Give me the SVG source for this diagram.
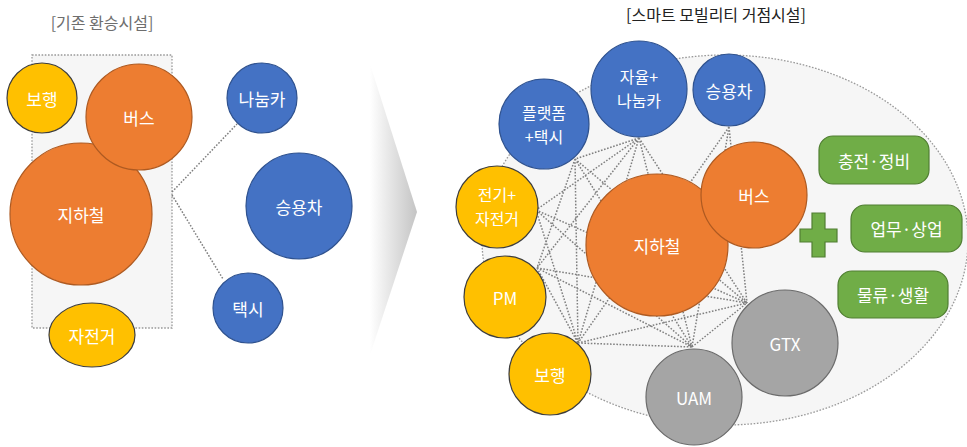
<svg xmlns="http://www.w3.org/2000/svg" width="967" height="447" viewBox="0 0 967 447">
<defs>
<linearGradient id="chev" x1="0" y1="0" x2="1" y2="0">
<stop offset="0" stop-color="#ffffff"/>
<stop offset="1" stop-color="#c4c4c4"/>
</linearGradient>
<style>
text{font-family:"Noto Sans CJK KR","Noto Sans",sans-serif;text-anchor:middle;dominant-baseline:central}
.lbl{fill:#ffffff;font-size:17px}
.lbl2{fill:#ffffff;font-size:16px}
.title{font-size:16px}
.blue{fill:#4472C4;stroke:#2F528F;stroke-width:1.2}
.orange{fill:#ED7D31;stroke:#AE5A21;stroke-width:1.2}
.yellow{fill:#FFC000;stroke:#3d3d3d;stroke-width:1.2}
.gray{fill:#A5A5A5;stroke:#6b6b6b;stroke-width:1.2}
.green{fill:#70AD47;stroke:#507E32;stroke-width:1.2}
.dot{fill:none;stroke:#7f7f7f;stroke-width:1.5;stroke-dasharray:1.6 1.6}
.area{fill:#f6f6f6;stroke:#999999;stroke-width:1.3;stroke-dasharray:1.6 1.6}
</style>
</defs>
<rect width="967" height="447" fill="#ffffff"/>

<text class="title" x="102" y="22" fill="#6e6e6e">[기존 환승시설]</text>
<text class="title" x="716" y="14" fill="#222222">[스마트 모빌리티 거점시설]</text>

<rect id="existing-area" class="area" x="32" y="55" width="140" height="273"/>
<polygon id="arrow" points="370,64 417,212 370,355" fill="url(#chev)"/>
<ellipse id="smart-area" class="area" cx="725" cy="240" rx="243" ry="185"/>

<g id="connectors">
<line class="dot" x1="172" y1="192" x2="237" y2="124"/>
<line class="dot" x1="172" y1="195" x2="223" y2="279"/>
<path class="dot" d="M639,138 L575,159 M639,138 L536,210 M639,138 L537,268 M639,138 L578,343 M639,138 L692,347 M639,138 L747,303
M729,127 L578,343 M729,127 L692,347 M729,127 L747,303
M575,159 L537,268 M575,159 L578,343 M575,159 L692,347 M575,159 L747,303
M536,210 L578,343 M536,210 L692,347 M536,210 L747,303
M537,268 L578,343 M537,268 L692,347 M537,268 L747,303
M578,343 L692,347 M578,343 L747,303 M692,347 L747,303"/>
</g>

<g id="left-walk"><circle class="yellow" cx="42" cy="98" r="35"/><text class="lbl" x="42" y="98">보행</text></g>
<g id="left-subway"><circle class="orange" cx="81" cy="214" r="71"/><text class="lbl" x="81" y="214">지하철</text></g>
<g id="left-bus"><circle class="orange" cx="139" cy="117" r="53"/><text class="lbl" x="139" y="117">버스</text></g>
<g id="left-bike"><ellipse class="yellow" cx="92" cy="335" rx="43" ry="32"/><text class="lbl" x="92" y="335">자전거</text></g>
<g id="left-carshare"><circle class="blue" cx="262" cy="98" r="35"/><text class="lbl" x="262" y="98">나눔카</text></g>
<g id="left-car"><circle class="blue" cx="299" cy="206" r="53"/><text class="lbl" x="299" y="206">승용차</text></g>
<g id="left-taxi"><circle class="blue" cx="248" cy="308" r="35"/><text class="lbl" x="248" y="308">택시</text></g>

<g id="r-autocar"><circle class="blue" cx="639" cy="89" r="48"/><text class="lbl2" x="639" y="76">자율+</text><text class="lbl2" x="639" y="100">나눔카</text></g>
<g id="r-car"><circle class="blue" cx="729" cy="90" r="36"/><text class="lbl" x="729" y="90">승용차</text></g>
<g id="r-taxi"><circle class="blue" cx="544" cy="124" r="45"/><text class="lbl2" x="544" y="112">플랫폼</text><text class="lbl2" x="544" y="136">+택시</text></g>
<g id="r-ebike"><circle class="yellow" cx="497" cy="207" r="41"/><text class="lbl2" x="497" y="194">전기+</text><text class="lbl2" x="497" y="218">자전거</text></g>
<g id="r-pm"><circle class="yellow" cx="505" cy="297" r="41"/><text class="lbl" x="505" y="297">PM</text></g>
<g id="r-walk"><circle class="yellow" cx="550" cy="374" r="41"/><text class="lbl" x="550" y="374">보행</text></g>
<g id="r-subway"><circle class="orange" cx="657" cy="245" r="71"/><text class="lbl" x="657" y="245">지하철</text></g>
<g id="r-bus"><circle class="orange" cx="754" cy="195" r="53"/><text class="lbl" x="754" y="195">버스</text></g>
<g id="r-gtx"><circle class="gray" cx="785" cy="343" r="53"/><text class="lbl" x="785" y="343">GTX</text></g>
<g id="r-uam"><circle class="gray" cx="694" cy="397" r="48"/><text class="lbl" x="694" y="397">UAM</text></g>

<g id="plus"><path class="green" d="M812,213 H825 V229 H837 V242 H825 V257 H812 V242 H800 V229 H812 Z"/></g>
<g id="box-charge"><rect class="green" x="819" y="136" width="110" height="48" rx="14"/><text class="lbl" x="874" y="160">충전·정비</text></g>
<g id="box-business"><rect class="green" x="851" y="205" width="111" height="47" rx="14"/><text class="lbl" x="906.5" y="228.5">업무·상업</text></g>
<g id="box-logistics"><rect class="green" x="838" y="271" width="110" height="47" rx="14"/><text class="lbl" x="893" y="294.5">물류·생활</text></g>
</svg>
